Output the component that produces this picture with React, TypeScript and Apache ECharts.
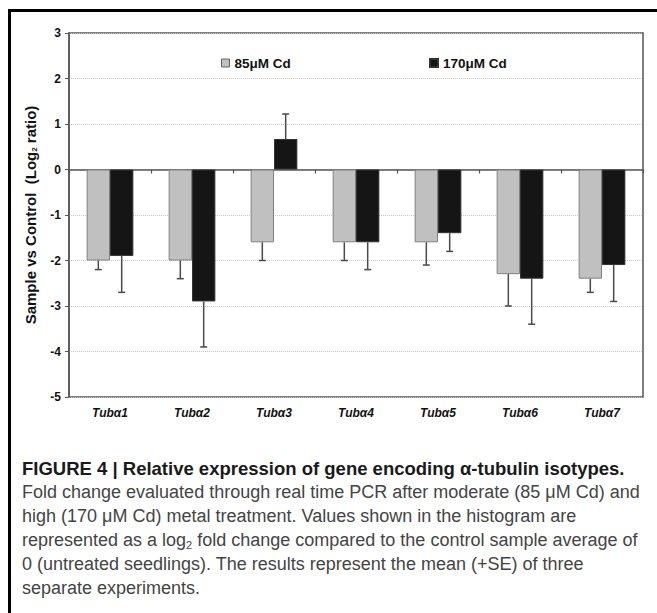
import React, { useEffect, useRef } from "react";
import * as echarts from "echarts";

const categories = ["Tubα1", "Tubα2", "Tubα3", "Tubα4", "Tubα5", "Tubα6", "Tubα7"];
const seriesNames = ["85μM Cd", "170μM Cd"];
const cd85 = [-2.0, -2.0, -1.6, -1.6, -1.6, -2.3, -2.4];
const se85 = [0.2, 0.4, 0.4, 0.4, 0.5, 0.7, 0.3];
const cd170 = [-1.9, -2.9, 0.67, -1.6, -1.4, -2.4, -2.1];
const se170 = [0.8, 1.0, 0.55, 0.6, 0.4, 1.0, 0.8];
const yTicks = { min: -5, max: 3, interval: 1 };

const captionTitle = "FIGURE 4 | Relative expression of gene encoding α-tubulin isotypes.";
const captionLines = [
  "{n|Fold change evaluated through real time PCR after moderate (85 μM Cd) and}",
  "{n|high (170 μM Cd) metal treatment. Values shown in the histogram are}",
  "{n|represented as a log}{s|2}{n| fold change compared to the control sample average of}",
  "{n|0 (untreated seedlings). The results represent the mean (+SE) of three}",
  "{n|separate experiments.}",
];

const CAT_GAP = 0.43;

export default function App() {
  const ref = useRef<HTMLDivElement>(null);
  useEffect(() => {
    const chart = echarts.init(ref.current!, null, { renderer: "svg" });
    const errData = (vals: number[], se: number[]) =>
      vals.map((v, i) => [i, v, v >= 0 ? v + se[i] : v - se[i]]);
    const errSeries = (idx: number, vals: number[], se: number[]) => ({
      type: "custom",
      xAxisIndex: 0,
      yAxisIndex: 0,
      silent: true,
      z: 5,
      data: errData(vals, se),
      renderItem: (params: any, api: any) => {
        const i = api.value(0);
        const v = api.value(1);
        const e = api.value(2);
        const p0 = api.coord([i, v]);
        const p1 = api.coord([i, e]);
        const band = api.size([1, 0])[0];
        const off = ((band * (1 - CAT_GAP)) / 4) * (idx === 0 ? -1 : 1);
        const x = p0[0] + off;
        const style = { stroke: "#4a4a4a", lineWidth: 1.5 };
        return {
          type: "group",
          children: [
            { type: "line", shape: { x1: x, y1: p0[1], x2: x, y2: p1[1] }, style },
            { type: "line", shape: { x1: x - 3.5, y1: p1[1], x2: x + 3.5, y2: p1[1] }, style },
          ],
        };
      },
    });
    const textBase = { fontFamily: "Liberation Sans, Arial, sans-serif" };
    const legendText = { fontWeight: "bold", fontSize: 13.5, color: "#111", ...textBase };
    chart.setOption({
      animation: false,
      backgroundColor: "#fff",
      textStyle: textBase,
      legend: [
        {
          data: [{ name: seriesNames[0], itemStyle: { borderColor: "#666", borderWidth: 1 } }],
          left: 216,
          top: 51,
          itemWidth: 8,
          itemHeight: 8,
          icon: "rect",
          textStyle: legendText,
        },
        {
          data: [seriesNames[1]],
          left: 424,
          top: 51,
          itemWidth: 8,
          itemHeight: 8,
          icon: "rect",
          textStyle: legendText,
        },
      ],
      grid: {
        left: 69,
        top: 33,
        width: 574,
        height: 364,
        show: true,
        borderColor: "#555",
        borderWidth: 1.5,
        backgroundColor: "transparent",
      },
      xAxis: [
        {
          type: "category",
          data: categories,
          position: "bottom",
          axisLine: { onZero: true, lineStyle: { color: "#555", width: 1.5 } },
          axisTick: { show: true, length: 4, lineStyle: { color: "#555", width: 1.2 } },
          axisLabel: { show: false },
        },
        {
          type: "category",
          data: categories,
          position: "bottom",
          axisLine: { show: false, onZero: false },
          axisTick: { show: false },
          axisLabel: {
            margin: 10,
            fontWeight: "bold",
            fontStyle: "italic",
            fontSize: 12,
            color: "#111",
            ...textBase,
          },
        },
      ],
      yAxis: {
        type: "value",
        min: yTicks.min,
        max: yTicks.max,
        interval: yTicks.interval,
        axisLine: { show: true, lineStyle: { color: "#555", width: 1.5 } },
        axisTick: { show: true, length: 4, lineStyle: { color: "#555" } },
        axisLabel: { fontWeight: "bold", fontSize: 12, color: "#111", margin: 8, ...textBase },
        splitLine: { show: true, lineStyle: { color: "#c8c8c8", type: "dotted", width: 1 } },
        name: "{a|Sample vs Control  (Log}{s|2}{a| ratio)}",
        nameLocation: "middle",
        nameGap: 31,
        nameTextStyle: {
          rich: {
            a: { fontWeight: "bold", fontSize: 15, color: "#111", ...textBase },
            s: { fontWeight: "bold", fontSize: 8, color: "#111", padding: [7, 0, 0, 0], ...textBase },
          },
        },
      },
      series: [
        {
          name: seriesNames[0],
          type: "bar",
          data: cd85,
          barGap: "0%",
          barCategoryGap: CAT_GAP * 100 + "%",
          itemStyle: { color: "#c0c0c0", borderColor: "#808080", borderWidth: 1 },
        },
        {
          name: seriesNames[1],
          type: "bar",
          data: cd170,
          barGap: "0%",
          barCategoryGap: CAT_GAP * 100 + "%",
          itemStyle: { color: "#151515", borderColor: "#333", borderWidth: 1 },
        },
        errSeries(0, cd85, se85),
        errSeries(1, cd170, se170),
      ],
      graphic: [
        { type: "rect", shape: { x: 8, y: 9, width: 3, height: 604 }, style: { fill: "#000" } },
        { type: "rect", shape: { x: 8, y: 9, width: 649, height: 3 }, style: { fill: "#000" } },
        {
          type: "text",
          x: 22,
          y: 468,
          style: {
            text: captionTitle,
            fontWeight: "bold",
            fontSize: 18.5,
            fill: "#1a1a1a",
            verticalAlign: "middle",
            ...textBase,
          },
        },
        ...captionLines.map((t, k) => ({
          type: "text",
          x: 22,
          y: 492 + k * 24,
          style: {
            text: t,
            verticalAlign: "middle",
            rich: {
              n: { fontSize: 18, fill: "#444", ...textBase },
              s: { fontSize: 11, fill: "#444", padding: [9, 0, 0, 0], ...textBase },
            },
          },
        })),
      ],
    });
    return () => chart.dispose();
  }, []);
  return (
    <div
      ref={ref}
      style={{ position: "absolute", left: 0, top: 0, width: 657, height: 613 }}
    />
  );
}
